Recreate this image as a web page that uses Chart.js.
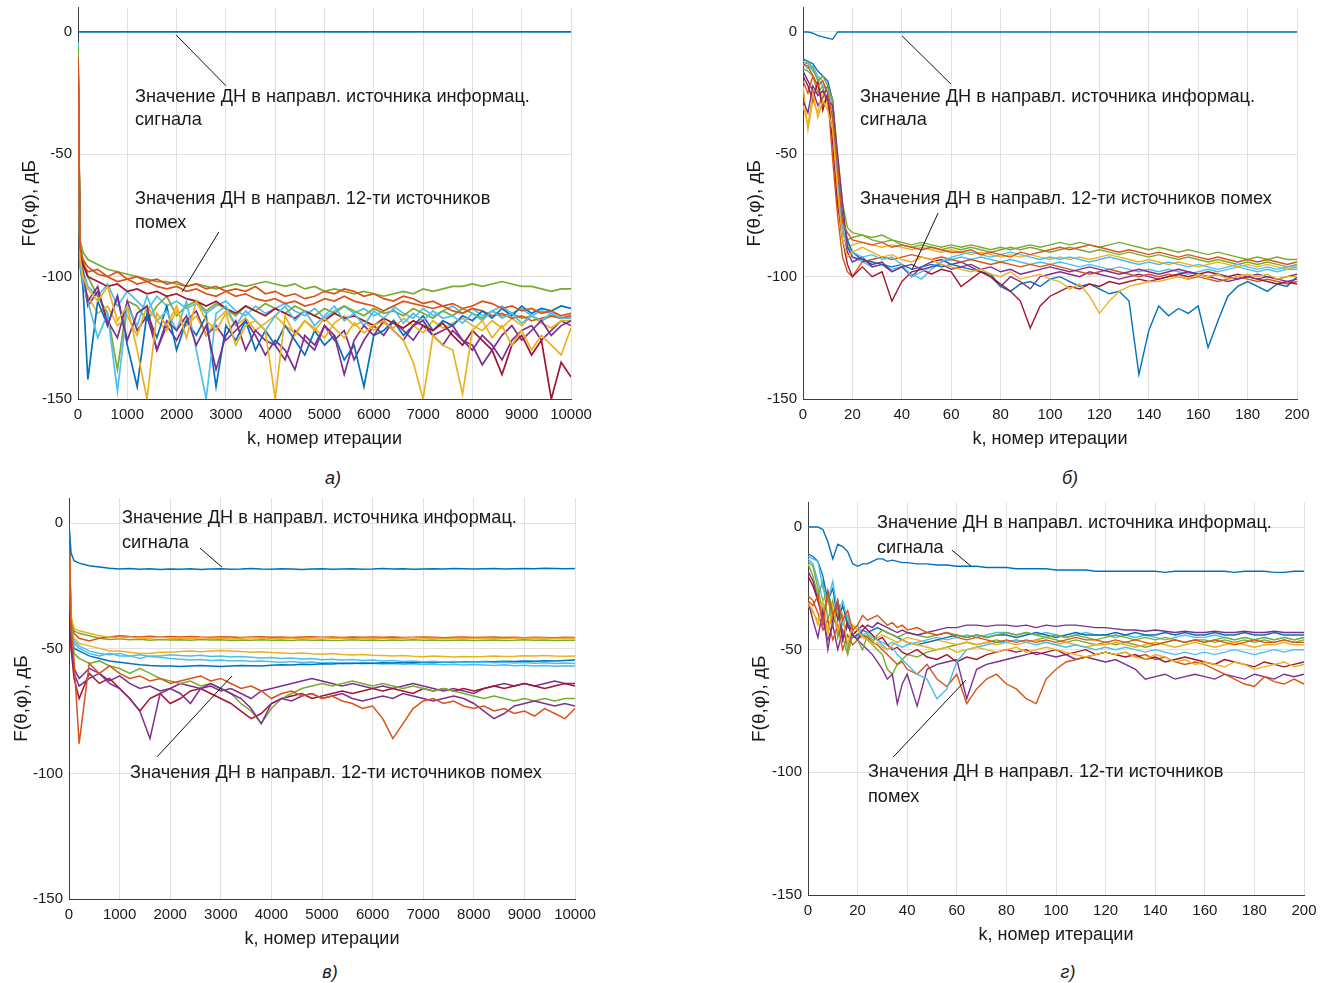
<!DOCTYPE html>
<html>
<head>
<meta charset="utf-8">
<script src="https://cdn.jsdelivr.net/npm/chart.js@4/dist/chart.umd.min.js"></script>
<style>
  body { margin: 0; background: #fff; width: 1321px; height: 983px; position: relative; overflow: hidden;
         font-family: Arial, "Liberation Sans", sans-serif; }
  canvas { position: absolute; }
  .cap { position: absolute; font-style: italic; font-size: 18px; color: #1a1a1a; transform: translate(-50%, -50%); }
</style>
</head>
<body>
<canvas id="pa" width="600" height="460" style="left:0;top:0"></canvas>
<canvas id="pb" width="601" height="460" style="left:720px;top:0"></canvas>
<canvas id="pc" width="600" height="460" style="left:0;top:490px"></canvas>
<canvas id="pd" width="581" height="460" style="left:740px;top:490px"></canvas>
<div class="cap" style="left:333px;top:478px">а)</div>
<div class="cap" style="left:1070px;top:478px">б)</div>
<div class="cap" style="left:330px;top:972px">в)</div>
<div class="cap" style="left:1068px;top:972px">г)</div>
<script>
// --- DATA ---
const yTickValues = [-150, -100, -50, 0];
const lineColors = ['#0072BD', '#D95319', '#EDB120', '#7E2F8E', '#77AC30', '#4DBEEE', '#A2142F'];

// panel а) : k = 0 ... 10000
const aK = [0, 40, 100,
  200, 400, 600, 800, 1000, 1200, 1400, 1600, 1800, 2000,
  2200, 2400, 2600, 2800, 3000, 3200, 3400, 3600, 3800, 4000,
  4200, 4400, 4600, 4800, 5000, 5200, 5400, 5600, 5800, 6000,
  6200, 6400, 6600, 6800, 7000, 7200, 7400, 7600, 7800, 8000,
  8200, 8400, 8600, 8800, 9000, 9200, 9400, 9600, 9800, 10000];
const aSignal = [0, 0, 0,
  0, 0, 0, 0, 0, 0, 0, 0, 0, 0,
  0, 0, 0, 0, 0, 0, 0, 0, 0, 0,
  0, 0, 0, 0, 0, 0, 0, 0, 0, 0,
  0, 0, 0, 0, 0, 0, 0, 0, 0, 0,
  0, 0, 0, 0, 0, 0, 0, 0, 0, 0];
const aInterf = [
  [-10, -88, -93,
   -96, -99, -100, -98, -101, -100, -102, -101, -103, -102,
   -104, -103, -105, -104, -106, -105, -106, -104, -107, -106,
   -108, -107, -109, -108, -106, -107, -105, -106, -108, -107,
   -109, -110, -108, -109, -111, -110, -112, -111, -113, -112,
   -110, -111, -113, -112, -114, -113, -115, -114, -116, -115],
  [-14, -92, -100,
   -105, -110, -104, -118, -112, -130, -150, -115, -120, -112,
   -125, -110, -118, -122, -115, -128, -120, -118, -122, -150,
   -116, -124, -118, -122, -117, -121, -125, -119, -123, -120,
   -118, -122, -126, -135, -150, -124, -128, -130, -148, -122,
   -118, -125, -120, -128, -122, -130, -124, -128, -132, -121],
  [-12, -90, -98,
   -110, -104, -120, -108, -126, -115, -112, -130, -118, -122,
   -116, -128, -120, -138, -124, -118, -130, -122, -126, -128,
   -134, -122, -126, -130, -120, -124, -140, -126, -120, -124,
   -118, -122, -126, -120, -118, -124, -122, -120, -126, -128,
   -136, -130, -124, -120, -126, -122, -118, -124, -120, -118],
  [-6, -85, -90,
   -93, -95, -97, -98, -99, -100, -101, -102, -102, -103,
   -104, -103, -104, -105, -104, -103, -104, -103, -102, -103,
   -104, -103, -105, -104, -106, -105, -106, -107, -106, -107,
   -108, -107, -106, -107, -105, -106, -105, -104, -104, -103,
   -104, -103, -102, -103, -104, -104, -105, -106, -105, -105],
  [-4, -95, -102,
   -110, -125, -115, -147, -112, -120, -108, -118, -114, -122,
   -110, -130, -150, -115, -112, -120, -114, -118, -122, -116,
   -112, -118, -114, -120, -116, -112, -118, -115, -120, -114,
   -117, -113, -119, -115, -118, -114, -117, -116, -119, -115,
   -118, -114, -117, -115, -119, -116, -118, -115, -117, -117],
  [-8, -88, -95,
   -100, -102, -104, -103, -106, -105, -107, -106, -108, -107,
   -109, -110, -112, -110, -113, -115, -112, -114, -116, -113,
   -115, -117, -114, -116, -118, -115, -117, -116, -118, -120,
   -117, -119, -121, -118, -120, -122, -119, -124, -128, -122,
   -126, -130, -140, -128, -124, -132, -126, -150, -135, -141],
  [-16, -94, -104,
   -142, -110, -120, -108, -128, -145, -115, -125, -112, -130,
   -118, -124, -116, -145, -120, -126, -118, -130, -122, -128,
   -120, -126, -132, -122, -128, -124, -134, -128, -145, -124,
   -122, -118, -124, -120, -116, -122, -118, -120, -116, -118,
   -114, -117, -113, -116, -112, -115, -113, -114, -112, -113],
  [-9, -90, -95,
   -98, -97, -100, -102, -101, -103, -102, -104, -105, -104,
   -106, -105, -107, -108, -106, -108, -107, -109, -110, -109,
   -111, -110, -112, -111, -109, -110, -108, -110, -111, -112,
   -114, -112, -110, -111, -112, -113, -112, -114, -115, -113,
   -114, -116, -115, -117, -116, -118, -117, -116, -117, -116],
  [-18, -96, -104,
   -108, -115, -112, -120, -116, -124, -112, -118, -122, -114,
   -120, -116, -124, -118, -114, -120, -117, -122, -119, -116,
   -120, -123, -118, -121, -125, -119, -116, -120, -118, -122,
   -119, -121, -117, -120, -123, -118, -121, -119, -117, -120,
   -122, -118, -121, -117, -120, -116, -119, -121, -118, -118],
  [-10, -92, -100,
   -112, -106, -118, -125, -110, -122, -116, -130, -120, -126,
   -118, -114, -124, -120, -126, -122, -118, -124, -132, -126,
   -130, -138, -124, -128, -120, -126, -122, -134, -126, -120,
   -124, -118, -122, -126, -120, -124, -128, -122, -126, -130,
   -124, -128, -134, -126, -122, -120, -126, -122, -118, -120],
  [-7, -87, -93,
   -100, -108, -115, -138, -110, -112, -118, -112, -108, -116,
   -112, -110, -114, -111, -113, -116, -112, -114, -111, -113,
   -115, -112, -114, -116, -113, -115, -112, -114, -116, -113,
   -115, -114, -116, -113, -115, -117, -114, -116, -113, -115,
   -117, -114, -116, -115, -117, -116, -118, -116, -117, -117],
  [-5, -90, -97,
   -104, -108, -103, -112, -106, -110, -114, -108, -112, -110,
   -113, -111, -115, -112, -110, -114, -116, -112, -115, -113,
   -111, -114, -116, -113, -117, -114, -112, -115, -113, -116,
   -114, -112, -115, -117, -113, -116, -114, -112, -115, -113,
   -116, -114, -112, -115, -113, -116, -114, -115, -117, -116]
];

// panel б) : k = 0 ... 200
const bK = [0, 2, 4, 6, 8, 10, 12, 14, 16, 18, 20,
  24, 28, 32, 36, 40, 44, 48, 52, 56, 60,
  64, 68, 72, 76, 80, 84, 88, 92, 96, 100,
  104, 108, 112, 116, 120, 124, 128, 132, 136, 140,
  144, 148, 152, 156, 160, 164, 168, 172, 176, 180,
  184, 188, 192, 196, 200];
const bSignal = [0, 0, -0.5, -1.5, -2, -2.5, -3, 0, 0, 0, 0,
  0, 0, 0, 0, 0, 0, 0, 0, 0, 0,
  0, 0, 0, 0, 0, 0, 0, 0, 0, 0,
  0, 0, 0, 0, 0, 0, 0, 0, 0, 0,
  0, 0, 0, 0, 0, 0, 0, 0, 0, 0,
  0, 0, 0, 0, 0];
const bInterf = [
  [-13, -14, -18, -22, -20, -25, -35, -55, -78, -82, -85,
   -86, -87, -86, -88, -87, -88, -89, -88, -89, -90,
   -90, -89, -91, -90, -91, -92, -90, -91, -90, -89,
   -88, -89, -88, -87, -88, -89, -90, -89, -90, -91,
   -90, -91, -92, -91, -92, -93, -92, -93, -94, -93,
   -94, -93, -94, -95, -94],
  [-30, -38, -25, -35, -28, -32, -40, -65, -85, -92, -90,
   -88, -90, -92, -91, -93, -94, -92, -93, -95, -96,
   -97, -98, -97, -99, -100, -98, -101, -100, -99, -101,
   -102, -105, -103, -108, -115, -110, -106, -104, -103, -102,
   -102, -101, -100, -101, -99, -100, -99, -101, -100, -99,
   -100, -99, -101, -100, -100],
  [-28, -33, -22, -26, -24, -28, -30, -50, -70, -88, -92,
   -93, -95, -94, -98, -96, -95, -97, -96, -95, -97,
   -96, -95, -97, -96, -98, -97, -99, -98, -97, -96,
   -97, -98, -97, -96, -97, -98, -99, -98, -97, -98,
   -99, -98, -97, -98, -99, -100, -99, -100, -101, -100,
   -101, -100, -101, -102, -101],
  [-14, -12, -15, -20, -18, -22, -28, -50, -70, -80, -82,
   -83, -84, -83, -85, -86, -87, -86, -87, -88, -87,
   -88, -87, -88, -89, -88, -89, -88, -87, -88, -87,
   -86, -87, -86, -87, -88, -87, -86, -87, -88, -89,
   -88, -89, -90, -89, -90, -91, -90, -91, -92, -93,
   -92, -93, -92, -93, -93],
  [-12, -13, -16, -19, -22, -24, -30, -60, -80, -88, -90,
   -92, -91, -93, -92, -95, -100, -98, -96, -94, -92,
   -91, -90, -91, -92, -91, -90, -91, -92, -93, -92,
   -93, -92, -93, -94, -93, -92, -93, -94, -95, -94,
   -95, -94, -95, -96, -95, -96, -97, -96, -95, -96,
   -97, -96, -97, -96, -96],
  [-18, -22, -28, -20, -32, -25, -45, -70, -85, -95, -100,
   -96, -100, -98, -110, -102, -98, -97, -99, -97, -98,
   -104, -101, -98, -100, -103, -106, -110, -121, -112, -108,
   -106, -104, -105, -103, -104, -102, -103, -102, -101, -102,
   -101, -100, -99, -100, -99, -98, -99, -100, -99, -100,
   -101, -102, -103, -102, -103],
  [-11, -12, -13, -16, -18, -20, -28, -55, -75, -85, -90,
   -93, -94, -95, -96, -95, -97, -96, -95, -96, -95,
   -96, -97, -98, -99, -104, -106, -103, -102, -104, -101,
   -100, -102, -104, -103, -105, -107, -106, -110, -140, -122,
   -112, -116, -113, -115, -112, -129, -118, -108, -104, -102,
   -104, -106, -103, -104, -100],
  [-20, -25, -18, -22, -30, -26, -52, -75, -92, -98, -100,
   -94, -93, -92, -93, -92, -91, -92, -93, -92, -93,
   -94, -93, -94, -95, -94, -95, -96, -95, -96, -95,
   -96, -97, -98, -99, -98, -97, -98, -99, -100, -99,
   -100, -99, -100, -101, -100, -101, -102, -101, -100, -101,
   -102, -101, -102, -103, -102],
  [-22, -40, -28, -33, -24, -30, -36, -62, -82, -88, -87,
   -86, -87, -88, -87, -88, -89, -88, -89, -90, -89,
   -90, -91, -90, -91, -92, -91, -92, -91, -92, -93,
   -92, -93, -92, -93, -92, -91, -92, -93, -94, -93,
   -94, -95, -94, -95, -96, -95, -94, -95, -96, -95,
   -96, -95, -96, -97, -96],
  [-16, -20, -24, -30, -27, -22, -28, -58, -80, -90, -94,
   -92, -96, -95, -98, -96, -100, -96, -94, -93, -95,
   -94, -96, -98, -100, -104, -100, -102, -105, -100, -99,
   -98, -99, -100, -98, -99, -100, -101, -100, -99, -100,
   -101, -100, -99, -98, -99, -100, -101, -102, -101, -100,
   -99, -100, -101, -100, -99],
  [-15, -16, -18, -25, -22, -30, -40, -68, -82, -85, -84,
   -83, -85, -86, -85, -87, -88, -87, -88, -89, -88,
   -89, -88, -89, -90, -89, -88, -89, -88, -89, -90,
   -89, -88, -89, -90, -89, -90, -91, -90, -91, -92,
   -91, -92, -93, -92, -93, -94, -93, -94, -95, -94,
   -95, -94, -95, -96, -95],
  [-13, -15, -14, -18, -20, -25, -32, -58, -78, -86, -92,
   -94, -96, -95, -97, -96, -99, -101, -97, -94, -93,
   -92, -93, -92, -93, -94, -93, -94, -95, -94, -95,
   -94, -95, -96, -95, -96, -97, -96, -97, -98, -97,
   -98, -97, -98, -99, -98, -97, -98, -97, -96, -97,
   -98, -97, -98, -97, -97]
];

// panel в) : k = 0 ... 10000
const cK = [0, 40, 100,
  200, 400, 600, 800, 1000, 1200, 1400, 1600, 1800, 2000,
  2200, 2400, 2600, 2800, 3000, 3200, 3400, 3600, 3800, 4000,
  4200, 4400, 4600, 4800, 5000, 5200, 5400, 5600, 5800, 6000,
  6200, 6400, 6600, 6800, 7000, 7200, 7400, 7600, 7800, 8000,
  8200, 8400, 8600, 8800, 9000, 9200, 9400, 9600, 9800, 10000];
const cSignal = [0, -12, -15,
  -16, -17, -17.5, -18, -18.3, -18.1, -18.4, -18.2, -18.5, -18.3,
  -18.4, -18.2, -18.5, -18.3, -18.2, -18.4, -18.3, -18.1, -18.3, -18.4,
  -18.2, -18.3, -18.5, -18.3, -18.2, -18.4, -18.3, -18.2, -18.4, -18.3,
  -18.1, -18.3, -18.2, -18.4, -18.3, -18.2, -18.3, -18.1, -18.2, -18.3,
  -18.2, -18.1, -18.3, -18.2, -18.1, -18.2, -18.0, -18.1, -18.2, -18.1];
const cInterf = [
  [0, -42, -55,
   -88, -56, -60, -57, -60, -62, -61, -63, -62, -64,
   -63, -62, -61, -63, -62, -64, -66, -65, -67, -70,
   -68, -67, -69, -68, -70, -69, -71, -72, -74, -73,
   -78, -86, -80, -74, -71, -70, -72, -71, -73, -74,
   -73, -75, -74, -76, -75, -77, -74, -76, -78, -74],
  [0, -37, -42,
   -43, -44, -45, -45.5, -46, -45.5, -46, -46, -45.5, -46,
   -46, -46.2, -45.8, -46, -46, -46.3, -46, -45.8, -46, -46.2,
   -46, -46, -46.2, -46, -45.8, -46, -46, -46.2, -46, -46,
   -46, -46.2, -46, -45.8, -46, -46, -46.2, -46, -46, -46.1,
   -46, -46, -46.2, -46, -46, -45.9, -46, -46.1, -46, -46],
  [0, -45, -60,
   -65, -62, -60, -64, -66, -70, -75, -86, -68, -66,
   -68, -72, -66, -64, -66, -68, -70, -74, -80, -72,
   -70, -71, -69, -68, -70, -69, -68, -70, -71, -70,
   -69, -70, -68, -69, -70, -71, -70, -69, -70, -72,
   -75, -78, -76, -73, -72, -71, -72, -73, -72, -73],
  [0, -40, -52,
   -54, -56, -55, -57, -58, -60, -58, -60, -62, -63,
   -64, -63, -65, -64, -66, -68, -72, -75, -80, -74,
   -70, -68, -66, -65, -64, -65, -64, -63, -64, -65,
   -64, -65, -66, -65, -66, -67, -66, -67, -68, -69,
   -70, -69, -70, -71, -70, -71, -70, -71, -70, -70],
  [0, -43, -48,
   -50, -52, -53, -52, -53, -53, -54, -53, -53, -52.5,
   -52.8, -53, -52.7, -53.2, -53, -53.4, -53.2, -53.5, -53.8, -53.6,
   -54, -53.8, -54.2, -54, -54.5, -54.3, -54.6, -54.4, -54.8, -54.6,
   -55, -54.8, -55.2, -55, -55.3, -55.1, -55.4, -55.2, -55.5, -55.6,
   -55.4, -55.7, -55.5, -55.8, -55.6, -55.9, -55.7, -56, -55.8, -56],
  [0, -50, -62,
   -70, -60, -64, -62, -66, -70, -75, -70, -68, -72,
   -70, -67, -66, -68, -70, -72, -75, -78, -76, -72,
   -70, -69, -68, -70, -69, -68, -67, -68, -67, -66,
   -67, -66, -67, -68, -66, -67, -66, -67, -66, -67,
   -66, -65, -66, -65, -64, -65, -66, -65, -64, -65],
  [0, -44, -50,
   -51, -53, -54, -55, -55.5, -56, -56.5, -56.8, -57, -57,
   -57.2, -57, -56.8, -57, -57.2, -57, -56.8, -56.9, -57, -56.7,
   -56.5, -56.6, -56.3, -56.4, -56.1, -56.2, -55.9, -56, -55.8, -55.9,
   -55.7, -55.8, -55.6, -55.7, -55.5, -55.6, -55.4, -55.5, -55.3, -55.4,
   -55.2, -55.3, -55.1, -55.2, -55, -55.1, -54.9, -55, -54.8, -54.6],
  [0, -39, -44,
   -46, -47, -46, -45.5, -45, -45.3, -45.5, -45.2, -45.5, -45.3,
   -45.5, -45.3, -45.5, -45.6, -45.4, -45.5, -45.7, -45.5, -45.4, -45.6,
   -45.5, -45.7, -45.5, -45.4, -45.6, -45.5, -45.7, -45.5, -45.6, -45.5,
   -45.6, -45.5, -45.7, -45.6, -45.5, -45.6, -45.8, -45.6, -45.5, -45.7,
   -45.6, -45.5, -45.7, -45.6, -45.8, -45.6, -45.7, -45.8, -45.6, -45.7],
  [0, -42, -46,
   -48, -49, -50, -51, -51, -51.5, -52, -52, -51.5, -51.5,
   -51.2, -51, -51.3, -51, -50.8, -51, -51.2, -51.5, -51.3, -51.6,
   -51.8, -52, -51.8, -52.1, -52.3, -52, -52.4, -52.6, -52.4, -52.7,
   -52.8, -53, -52.8, -53.1, -53.3, -53, -53.2, -53.4, -53.2, -53.3,
   -53.2, -53, -53.2, -53.1, -52.9, -53, -52.8, -53, -53.1, -53],
  [0, -48, -58,
   -62, -58, -60, -63, -61, -64, -66, -65, -67, -66,
   -64, -65, -66, -65, -67, -66, -68, -70, -67, -66,
   -65, -64, -63, -62, -63, -64, -65, -64, -65, -66,
   -65, -66, -65, -64, -65, -66, -67, -66, -67, -68,
   -66, -65, -64, -65, -64, -65, -64, -63, -64, -64],
  [0, -38, -43,
   -44, -45, -46, -46.5, -46.2, -46.6, -46.4, -46.8, -46.5, -46.7,
   -46.6, -46.8, -46.5, -46.7, -46.6, -46.9, -46.7, -46.8, -46.6, -46.8,
   -46.7, -46.9, -46.6, -46.8, -46.7, -46.9, -46.8, -46.6, -46.8, -46.7,
   -46.9, -46.7, -46.8, -46.6, -46.8, -46.7, -46.9, -46.8, -46.7, -46.9,
   -46.8, -46.7, -46.9, -46.8, -46.6, -46.8, -46.7, -46.9, -46.8, -46.8],
  [0, -42, -47,
   -49, -51, -52, -52.5, -52, -53, -52.5, -53.2, -53.5, -54,
   -54.3, -54.6, -54.4, -54.8, -54.6, -55, -54.8, -55.2, -55, -55.3,
   -55.5, -55.2, -55.6, -55.4, -55.8, -55.6, -56, -55.8, -56.1, -55.9,
   -56.2, -56, -56.3, -56.1, -56.4, -56.2, -56.5, -56.3, -56.6, -56.4,
   -56.6, -56.8, -56.5, -56.9, -56.7, -57, -56.8, -57.1, -56.9, -57]
];

// panel г) : k = 0 ... 200
const dK = [0, 2, 4, 6, 8, 10, 12, 14, 16, 18,
  20, 22, 24, 26, 28, 30, 32, 34, 36, 38,
  40, 44, 48, 52, 56, 60, 64, 68, 72, 76,
  80, 84, 88, 92, 96, 100, 104, 108, 112, 116,
  120, 124, 128, 132, 136, 140, 144, 148, 152, 156,
  160, 164, 168, 172, 176, 180, 184, 188, 192, 196,
  200];
const dSignal = [0, 0, 0, -1, -6, -13, -7, -8, -10, -15,
  -16, -15, -15, -14, -13, -13, -14, -13.5, -14, -14.5,
  -14.5, -15, -15, -15.5, -15.5, -16, -16, -16, -16.5, -16.5,
  -16.5, -17, -17, -17, -17, -17.5, -17.5, -17.5, -17.5, -18,
  -18, -18, -18, -18, -18, -18, -18.5, -18, -18, -18,
  -18, -18, -18, -18.5, -18, -18, -18, -18.5, -18.5, -18,
  -18];
const dInterf = [
  [-30, -32, -28, -40, -26, -36, -30, -38, -34, -42,
   -40, -36, -38, -37, -36, -38, -40, -39, -41, -40,
   -42, -41, -43, -44, -43, -45, -46, -45, -46, -47,
   -46, -47, -46, -47, -46, -47, -46, -45, -46, -46,
   -47, -46, -47, -46, -47, -48, -47, -46, -47, -46,
   -47, -46, -47, -48, -47, -46, -47, -47, -46, -47,
   -47],
  [-31, -34, -40, -30, -44, -32, -42, -36, -48, -40,
   -42, -45, -46, -48, -47, -49, -50, -48, -47, -46,
   -47, -48, -49, -50, -49, -51, -50, -49, -50, -51,
   -50, -49, -51, -50, -49, -50, -51, -52, -53, -52,
   -51, -52, -51, -53, -54, -52, -53, -55, -54, -56,
   -55, -56, -57, -55, -56, -58, -57, -56, -55, -57,
   -56],
  [-30, -38, -45, -34, -50, -38, -30, -46, -40, -44,
   -46, -42, -40, -41, -39, -40, -41, -42, -43, -42,
   -43, -44, -43, -42, -41, -41, -40, -40, -40.5, -40,
   -40, -40.5, -40, -41, -40, -40.5, -40, -40, -40.5, -41,
   -41, -41.5, -42, -42, -42.5, -42, -42.5, -43, -42.5, -43,
   -43, -42.5, -43, -43, -42.5, -43, -43, -42.5, -43, -43,
   -43],
  [-14, -16, -25, -35, -28, -40, -32, -45, -52, -44,
   -46, -50, -44, -47, -44, -42, -43, -44, -45, -44,
   -43, -44, -45, -44, -43, -44, -45, -44, -45, -44,
   -43, -44, -43, -44, -45, -44, -45, -44, -45, -46,
   -45, -44, -45, -46, -45, -46, -45, -46, -47, -46,
   -47, -46, -45, -46, -45, -46, -45, -46, -45, -46,
   -45],
  [-12, -13, -14, -25, -30, -22, -35, -30, -38, -42,
   -40, -44, -43, -45, -46, -48, -50, -49, -52, -54,
   -56, -60, -62, -70, -66, -55, -50, -49, -48, -47,
   -47, -46, -47, -48, -47, -48, -49, -48, -49, -50,
   -49, -50, -49, -50, -51, -50, -51, -52, -51, -52,
   -51, -52, -51, -50, -51, -52, -51, -50, -51, -50,
   -50],
  [-20, -24, -30, -36, -28, -40, -34, -46, -38, -44,
   -42, -40, -42, -44, -46, -45, -48, -50, -49, -51,
   -52, -50, -53, -54, -52, -55, -53, -54, -52, -51,
   -50, -51, -50, -52, -51, -50, -52, -51, -50, -52,
   -51, -52, -53, -52, -54, -53, -55, -54, -53, -54,
   -55, -56, -54, -55, -56, -57, -55, -56, -57, -56,
   -55],
  [-11, -12, -14, -20, -30, -25, -38, -32, -40, -45,
   -44, -42, -43, -42, -41, -42, -43, -44, -45, -46,
   -47, -48, -47, -46, -45, -44, -45, -44, -45, -44,
   -44, -45, -44, -43, -44, -45, -44, -43, -44, -44,
   -44, -43, -44, -43, -44, -44, -43, -44, -43, -44,
   -44, -43, -44, -44, -43, -44, -44, -43, -44, -44,
   -44],
  [-28, -30, -35, -42, -38, -46, -40, -50, -44, -48,
   -46, -44, -45, -47, -48, -50, -52, -54, -56, -55,
   -58, -60, -56, -62, -65, -60, -72, -66, -62, -60,
   -64, -66, -70, -72, -62, -58, -55, -54, -53, -52,
   -51, -52, -51, -53, -52, -54, -53, -55, -56, -55,
   -56, -58, -60, -62, -64, -65, -61, -63, -64, -62,
   -64],
  [-32, -35, -38, -33, -42, -36, -40, -45, -38, -42,
   -44, -45, -44, -46, -45, -44, -45, -46, -47, -46,
   -45, -46, -47, -46, -47, -48, -47, -48, -47, -48,
   -47, -48, -47, -46, -47, -48, -47, -48, -49, -48,
   -48, -47, -48, -49, -48, -47, -48, -49, -48, -47,
   -48, -49, -48, -47, -48, -49, -48, -48, -47, -48,
   -48],
  [-18, -22, -30, -38, -46, -40, -50, -42, -48, -44,
   -46, -48, -50, -52, -55, -58, -62, -60, -72, -64,
   -60, -73, -58, -56, -55, -54, -70, -58, -56, -55,
   -54, -53, -52, -51, -52, -53, -52, -54, -53, -54,
   -55, -54, -56, -58, -62, -61, -60, -62, -61, -60,
   -61, -62, -60, -61, -62, -60, -61, -62, -60, -61,
   -60],
  [-15, -20, -28, -22, -38, -30, -45, -36, -50, -40,
   -42, -44, -46, -48, -50, -52, -58, -60, -56, -54,
   -52, -53, -51, -50, -49, -48, -47, -48, -47, -46,
   -47, -46, -47, -46, -45, -46, -47, -46, -47, -48,
   -47, -48, -47, -48, -49, -48, -47, -46, -47, -46,
   -46, -47, -46, -47, -46, -47, -46, -47, -46, -47,
   -46],
  [-13, -15, -22, -30, -26, -34, -30, -40, -36, -44,
   -45, -44, -46, -45, -46, -47, -48, -47, -48, -49,
   -48, -47, -46, -45, -46, -45, -44, -45, -44, -43,
   -43, -44, -43, -44, -43, -44, -45, -44, -43, -44,
   -44, -45, -44, -45, -44, -45, -46, -45, -44, -45,
   -45, -44, -45, -46, -45, -46, -45, -46, -45, -46,
   -45]
];

// --- annotation texts (placed in data units: k, dB) ---
const txtSignal = 'Значение ДН в направл. источника информац.';
const txtSignal2 = 'сигнала';
const txtInterf = 'Значения ДН в направл. 12-ти источников';
const txtInterfFull = 'Значения ДН в направл. 12-ти источников помех';
const txtInterf2 = 'помех';

const gridColor = '#e0e0e0';
const axisColor = '#3c3c3c';
const textColor = '#1a1a1a';

// draws the text labels and the black pointer lines
const notesPlugin = {
    id: 'notes',
    afterDatasetsDraw(chart, args, opts) {
        const { ctx } = chart;
        const x = chart.scales.x, y = chart.scales.y;
        ctx.save();
        ctx.strokeStyle = '#111';
        ctx.lineWidth = 1;
        (opts.lines || []).forEach(l => {
            ctx.beginPath();
            ctx.moveTo(x.getPixelForValue(l[0]), y.getPixelForValue(l[1]));
            ctx.lineTo(x.getPixelForValue(l[2]), y.getPixelForValue(l[3]));
            ctx.stroke();
        });
        ctx.fillStyle = textColor;
        ctx.font = '18.2px Arial, "Liberation Sans", sans-serif';
        ctx.textBaseline = 'middle';
        ctx.textAlign = 'left';
        (opts.texts || []).forEach(t => {
            ctx.fillText(t[2], x.getPixelForValue(t[0]), y.getPixelForValue(t[1]));
        });
        ctx.restore();
    }
};

function makePanel(id, K, signal, interf, cfg) {
    const series = [signal].concat(interf);
    const datasets = series.map((vals, i) => ({
        data: K.map((k, j) => ({ x: k, y: vals[j] })),
        borderColor: lineColors[i % lineColors.length],
        borderWidth: cfg.lw,
        pointRadius: 0,
        tension: 0,
        fill: false
    }));

    new Chart(document.getElementById(id), {
        type: 'line',
        data: { datasets: datasets },
        options: {
            responsive: false,
            animation: false,
            events: [],
            layout: { padding: cfg.pad },
            plugins: {
                legend: { display: false },
                tooltip: { enabled: false },
                notes: cfg.notes
            },
            scales: {
                x: {
                    type: 'linear',
                    min: 0,
                    max: cfg.xMax,
                    afterFit: s => { s.height = cfg.xH; s.paddingLeft = 0; s.paddingRight = 0; },
                    ticks: {
                        stepSize: cfg.xStep, autoSkip: false, maxRotation: 0, padding: 7,
                        color: textColor, font: { size: 15 },
                        callback: v => String(v)
                    },
                    grid: { color: gridColor, drawTicks: false },
                    border: { color: axisColor },
                    title: {
                        display: true, text: 'k, номер итерации', color: textColor,
                        font: { size: 18 }, padding: { top: 0, bottom: cfg.xTitlePad }
                    }
                },
                y: {
                    min: -150,
                    max: 10,
                    afterFit: s => { s.width = cfg.yW; s.paddingTop = 0; s.paddingBottom = 0; },
                    afterBuildTicks: s => { s.ticks = yTickValues.map(v => ({ value: v })); },
                    ticks: { padding: 6, color: textColor, font: { size: 15 } },
                    grid: { color: gridColor, drawTicks: false },
                    border: { color: axisColor },
                    title: {
                        display: true, text: 'F(θ,φ), дБ', color: textColor,
                        font: { size: 19 }, padding: { top: cfg.yTitlePad, bottom: 0 }
                    }
                }
            }
        },
        plugins: [notesPlugin]
    });
}

Chart.defaults.font.family = 'Arial, "Liberation Sans", sans-serif';

makePanel('pa', aK, aSignal, aInterf, {
    pad: { left: 0, top: 7.5, right: 29, bottom: 0 }, yW: 78, xH: 61, lw: 1.7,
    xMax: 10000, xStep: 1000, xTitlePad: 10, yTitlePad: 18,
    notes: {
        texts: [[1156, -26.6, txtSignal], [1156, -36, txtSignal2],
                [1156, -68.2, txtInterf], [1156, -78, txtInterf2]],
        lines: [[1988, -1.2, 3002, -22], [2860, -81.7, 2110, -106.3]]
    }
});

makePanel('pb', bK, bSignal, bInterf, {
    pad: { left: 0, top: 7.5, right: 24, bottom: 0 }, yW: 83, xH: 61, lw: 1.4,
    xMax: 200, xStep: 20, xTitlePad: 10, yTitlePad: 23,
    notes: {
        texts: [[23.1, -26.6, txtSignal], [23.1, -36, txtSignal2],
                [23.1, -68.2, txtInterfFull]],
        lines: [[40.1, -1.6, 59.9, -21.3], [54.7, -74, 44.1, -97.3]]
    }
});

makePanel('pc', cK, cSignal, cInterf, {
    pad: { left: 0, top: 8, right: 25, bottom: 0 }, yW: 69, xH: 51, lw: 1.5,
    xMax: 10000, xStep: 1000, xTitlePad: 0, yTitlePad: 10,
    notes: {
        texts: [[1047, 2, txtSignal], [1047, -8, txtSignal2],
                [1206, -99.7, txtInterfFull]],
        lines: [[2589, -10, 3024, -17.6], [1739, -93.3, 3221, -61]]
    }
});

makePanel('pd', dK, dSignal, dInterf, {
    pad: { left: 0, top: 12.5, right: 17, bottom: 0 }, yW: 68, xH: 55, lw: 1.4,
    xMax: 200, xStep: 20, xTitlePad: 4, yTitlePad: 8,
    notes: {
        texts: [[27.8, 1.6, txtSignal], [27.8, -8.6, txtSignal2],
                [24.2, -99.9, txtInterf], [24.2, -110, txtInterf2]],
        lines: [[58, -9.4, 65.7, -15.9], [34.3, -93.8, 63.7, -62.4]]
    }
});
</script>
</body>
</html>
